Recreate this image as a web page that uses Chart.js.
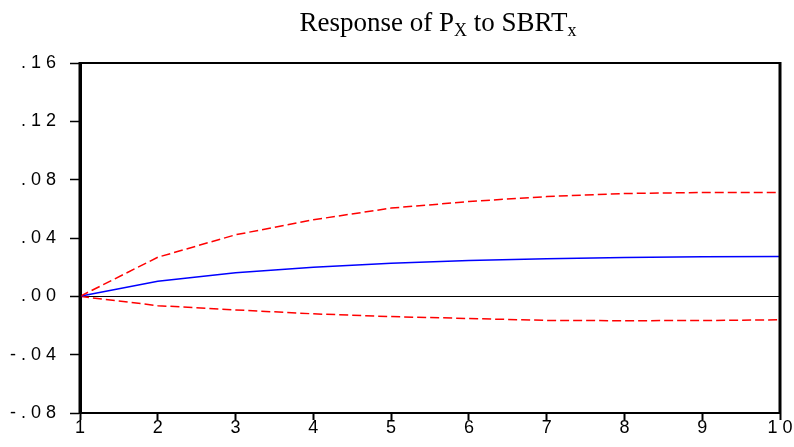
<!DOCTYPE html>
<html>
<head>
<meta charset="utf-8">
<script src="https://cdn.jsdelivr.net/npm/chart.js@4"></script>
<style>
    html, body { margin: 0; padding: 0; background: #fff; }
    #wrap { position: relative; width: 794px; height: 447px; }
    #title {
        position: absolute; left: 0; width: 876px; top: 9px;
        text-align: center; font-family: "Liberation Serif", "Times New Roman", serif;
        font-size: 27px; line-height: 27px; color: #000;
    }
    #title sub { font-size: 18px; vertical-align: -5px; line-height: 0; }
</style>
</head>
<body>
<div id="wrap">
    <canvas id="irfChart" width="794" height="447"></canvas>
    <div id="title">Response of P<sub>X</sub> to SBRT<sub>x</sub></div>
</div>
<script>
// periods on the x axis
const periods = ["1", "2", "3", "4", "5", "6", "7", "8", "9", "10"];

// impulse response and +/- 2 S.E. bands
const response = [0.000, 0.0103, 0.0161, 0.0200, 0.0227, 0.0245, 0.0257, 0.0266, 0.0271, 0.0273];
const upperBand = [0.000, 0.0268, 0.0422, 0.0525, 0.0605, 0.0650, 0.0684, 0.0705, 0.0712, 0.0712];
const lowerBand = [0.000, -0.0064, -0.0093, -0.0120, -0.0139, -0.0152, -0.0165, -0.0167, -0.0166, -0.0161];

// y axis ticks
const yMin = -0.08;
const yMax = 0.16;
const yStep = 0.04;

// spread characters apart like the original labels
function spaced(s) {
    return s.split('').join(' ');
}

function yLabel(v) {
    let s = Math.abs(v).toFixed(2).replace(/^0/, '');
    if (v < -1e-9) s = '-' + s;
    return spaced(s);
}

// draws the frame around the plot area
const framePlugin = {
    id: 'frame',
    afterDraw(chart) {
        const { ctx, chartArea: a } = chart;
        ctx.save();
        ctx.strokeStyle = '#000';
        ctx.lineWidth = 2;
        ctx.beginPath();
        ctx.moveTo(a.left, a.top);
        ctx.lineTo(a.right, a.top);
        ctx.moveTo(a.left, a.bottom);
        ctx.lineTo(a.right, a.bottom);
        ctx.stroke();
        ctx.lineWidth = 3;
        ctx.beginPath();
        ctx.moveTo(a.left, a.top - 1);
        ctx.lineTo(a.left, a.bottom + 1);
        ctx.moveTo(a.right, a.top - 1);
        ctx.lineTo(a.right, a.bottom + 1);
        ctx.stroke();
        ctx.restore();
    }
};

document.addEventListener('DOMContentLoaded', function() {
    const ctx = document.getElementById('irfChart').getContext('2d');
    new Chart(ctx, {
        type: 'line',
        data: {
            labels: periods,
            datasets: [
                {
                    label: 'Upper',
                    data: upperBand,
                    borderColor: '#ff0000',
                    borderWidth: 1.5,
                    borderDash: [9, 4],
                    pointRadius: 0,
                    fill: false,
                    tension: 0
                },
                {
                    label: 'Response',
                    data: response,
                    borderColor: '#0000ff',
                    borderWidth: 1.5,
                    pointRadius: 0,
                    fill: false,
                    tension: 0
                },
                {
                    label: 'Lower',
                    data: lowerBand,
                    borderColor: '#ff0000',
                    borderWidth: 1.5,
                    borderDash: [9, 4],
                    pointRadius: 0,
                    fill: false,
                    tension: 0
                }
            ]
        },
        options: {
            responsive: false,
            animation: false,
            layout: { padding: { top: 63, right: 14, left: 0, bottom: 0 } },
            plugins: {
                legend: { display: false },
                tooltip: { enabled: false }
            },
            scales: {
                x: {
                    type: 'category',
                    offset: false,
                    afterFit: function(scale) { scale.height = 34; },
                    border: { display: true, color: '#000', width: 2 },
                    grid: {
                        drawOnChartArea: false,
                        drawTicks: true,
                        tickLength: 7,
                        tickColor: '#000',
                        tickWidth: 2
                    },
                    ticks: {
                        color: '#000',
                        padding: -3,
                        maxRotation: 0,
                        autoSkip: false,
                        font: { family: '"Liberation Sans", Arial, sans-serif', size: 18 },
                        callback: function(v, i) { return spaced(periods[i]); }
                    }
                },
                y: {
                    min: yMin,
                    max: yMax,
                    afterFit: function(scale) { scale.width = 80; },
                    border: { display: true, color: '#000', width: 3 },
                    grid: {
                        color: function(c) { return Math.abs(c.tick.value) < 1e-9 ? '#000' : 'rgba(0,0,0,0)'; },
                        lineWidth: 1,
                        tickLength: 10,
                        tickColor: '#000',
                        tickWidth: 1.5
                    },
                    ticks: {
                        stepSize: yStep,
                        color: '#000',
                        padding: 14,
                        font: { family: '"Liberation Sans", Arial, sans-serif', size: 18 },
                        callback: function(v) { return yLabel(v); }
                    }
                }
            }
        },
        plugins: [framePlugin]
    });
});
</script>
</body>
</html>
